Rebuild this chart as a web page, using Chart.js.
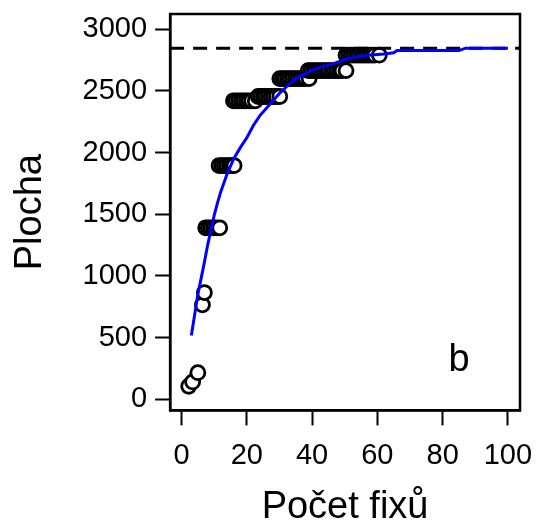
<!DOCTYPE html>
<html>
<head>
<meta charset="utf-8">
<script src="https://cdn.jsdelivr.net/npm/chart.js@4"></script>
<style>
  body { margin: 0; background: #fff; }
</style>
</head>
<body>
<canvas id="plochaChart" width="539" height="528"></canvas>
<script>
// pozorované body (počet fixů, plocha)
const fixX = [2.2, 3.4, 5.0, 6.4, 7.0,
    7.4, 8.2, 9.0, 9.8, 10.6, 11.7,
    11.5, 12.3, 13.1, 13.9, 14.7, 15.4, 16.1,
    15.9, 16.7, 17.5, 18.3, 19.1, 19.9, 20.7, 21.5, 22.6,
    23.5, 24.3, 25.1, 25.9, 26.7, 27.5, 28.3, 29.1, 30.1,
    30.1, 30.9, 31.7, 32.5, 33.3, 34.1, 34.9, 35.7, 36.5, 37.3, 38.1, 39.1,
    38.8, 39.6, 40.4, 41.2, 42.0, 42.8, 43.6, 44.4, 45.2, 46.0, 46.8, 47.6, 48.4, 49.2, 50.4,
    50.4, 51.2, 52.0, 52.8, 53.6, 54.4, 55.2, 56.0, 56.8, 57.6, 58.4, 59.2, 60.6];
const plochaY = [105, 140, 215, 765, 865,
    1390, 1390, 1390, 1390, 1390, 1390,
    1895, 1895, 1895, 1895, 1895, 1895, 1895,
    2420, 2420, 2420, 2420, 2420, 2420, 2420, 2420, 2420,
    2455, 2455, 2455, 2455, 2455, 2455, 2455, 2455, 2455,
    2600, 2600, 2600, 2600, 2600, 2600, 2600, 2600, 2600, 2600, 2600, 2600,
    2665, 2665, 2665, 2665, 2665, 2665, 2665, 2665, 2665, 2665, 2665, 2665, 2665, 2665, 2665,
    2790, 2790, 2790, 2790, 2790, 2790, 2790, 2790, 2790, 2790, 2790, 2790, 2790];

// modelová křivka (modrá)
const curveX = [3, 4, 5, 6, 7, 8, 9, 10, 11, 12, 14, 16, 18, 20, 22, 24, 26, 28, 30, 32,
    35, 38, 40, 43, 46, 50, 54, 58, 62, 65, 66, 85, 87, 100];
const curveY = [517, 680, 850, 980, 1110, 1250, 1370, 1490, 1590, 1680, 1830, 1950, 2040, 2120,
    2220, 2300, 2360, 2420, 2480, 2530, 2600, 2640, 2670, 2695, 2715, 2755, 2780, 2792, 2800,
    2810, 2827, 2827, 2847, 2847];

const asymptota = 2847;
const xRange = [-3.5, 103.7];
const yRange = [-91, 3124];
const xTicks = [0, 20, 40, 60, 80, 100];
const yTicks = [0, 500, 1000, 1500, 2000, 2500, 3000];
const panelLabel = 'b';

const frame = {
    id: 'frame',
    afterDraw(chart) {
        const { ctx, chartArea: a, scales } = chart;
        ctx.save();
        ctx.strokeStyle = '#000';
        ctx.lineWidth = 2.5;
        ctx.strokeRect(a.left, a.top, a.right - a.left, a.bottom - a.top);
        ctx.fillStyle = '#000';
        ctx.font = '38px "Liberation Sans", Arial, sans-serif';
        ctx.textAlign = 'center';
        ctx.textBaseline = 'middle';
        ctx.fillText(panelLabel, scales.x.getPixelForValue(85), scales.y.getPixelForValue(313));
        ctx.restore();
    }
};

const font = '"Liberation Sans", Arial, sans-serif';
const noPad = axis => { axis.paddingTop = 0; axis.paddingBottom = 0; axis.paddingLeft = 0; axis.paddingRight = 0; };

new Chart(document.getElementById('plochaChart').getContext('2d'), {
    type: 'scatter',
    data: {
        datasets: [
            {
                data: curveX.map((x, i) => ({ x, y: curveY[i] })),
                showLine: true,
                borderColor: '#0000ff',
                borderWidth: 3,
                pointRadius: 0,
                order: 0
            },
            {
                data: xRange.map(x => ({ x, y: asymptota })),
                showLine: true,
                borderColor: '#000',
                borderWidth: 3,
                borderDash: [14, 9],
                pointRadius: 0,
                order: 1
            },
            {
                data: fixX.map((x, i) => ({ x, y: plochaY[i] })),
                pointRadius: 7,
                pointBorderWidth: 2.8,
                pointBorderColor: '#000',
                pointBackgroundColor: '#fff',
                order: 2
            }
        ]
    },
    options: {
        responsive: false,
        animation: false,
        layout: { padding: { left: 0, right: 19, top: 14, bottom: 0 } },
        plugins: { legend: { display: false }, tooltip: { enabled: false } },
        scales: {
            x: {
                type: 'linear',
                min: xRange[0],
                max: xRange[1],
                afterBuildTicks: axis => { axis.ticks = xTicks.map(v => ({ value: v })); },
                afterFit: noPad,
                grid: { drawOnChartArea: false, color: '#000', tickLength: 15, tickWidth: 2 },
                border: { display: true, color: '#000', width: 2.5 },
                ticks: { color: '#000', font: { family: font, size: 29, lineHeight: 1 }, padding: 16, maxRotation: 0, autoSkip: false, callback: v => v },
                title: { display: true, text: 'Počet fixů', color: '#000', font: { family: font, size: 38 }, padding: { top: -2, bottom: -2 } }
            },
            y: {
                type: 'linear',
                min: yRange[0],
                max: yRange[1],
                afterBuildTicks: axis => { axis.ticks = yTicks.map(v => ({ value: v })); },
                afterFit: noPad,
                grid: { drawOnChartArea: false, color: '#000', tickLength: 15, tickWidth: 2 },
                border: { display: true, color: '#000', width: 2.5 },
                ticks: { color: '#000', font: { family: font, size: 29, lineHeight: 1 }, padding: 8, autoSkip: false, callback: v => v },
                title: { display: true, text: 'Plocha', color: '#000', font: { family: font, size: 38 }, padding: { top: 8, bottom: 21 } }
            }
        }
    },
    plugins: [frame]
});
</script>
</body>
</html>
